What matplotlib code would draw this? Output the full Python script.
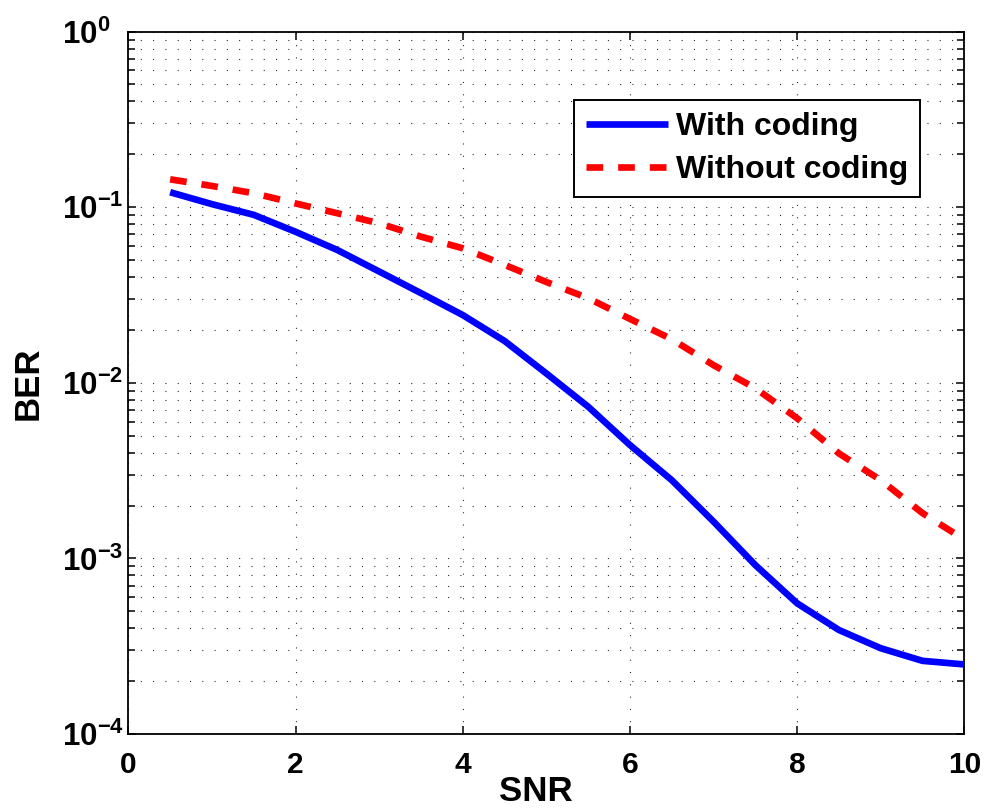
import matplotlib
matplotlib.use("Agg")
import matplotlib.pyplot as plt
from matplotlib.ticker import FixedLocator, FixedFormatter, LogLocator, NullFormatter

snr = [0.5, 1.0, 1.5, 2.0, 2.5, 3.0, 3.5, 4.0, 4.5, 5.0,
       5.5, 6.0, 6.5, 7.0, 7.5, 8.0, 8.5, 9.0, 9.5, 10.0]
ber_coded = [0.1216, 0.104, 0.0904, 0.0724, 0.0570, 0.0430, 0.0324, 0.0243, 0.0173, 0.0113,
             0.00731, 0.00442, 0.00279, 0.00162, 0.000916, 0.000555, 0.000391, 0.000308, 0.000261, 0.000249]
ber_uncoded = [0.144, 0.132, 0.120, 0.105, 0.0923, 0.0809, 0.0679, 0.0583, 0.0469, 0.0375,
               0.0303, 0.0231, 0.0177, 0.0126, 0.00931, 0.00628, 0.00396, 0.00279, 0.00181, 0.00128]
series_labels = ["With coding", "Without coding"]
x_ticks = [0, 2, 4, 6, 8, 10]
y_ticks = [1e-4, 1e-3, 1e-2, 1e-1, 1e0]
y_tick_labels = [r"$\mathbf{10^{-4}}$", r"$\mathbf{10^{-3}}$", r"$\mathbf{10^{-2}}$",
                 r"$\mathbf{10^{-1}}$", r"$\mathbf{10^{0}}$"]

plt.rcParams['font.family'] = ['Liberation Sans', 'DejaVu Sans']
plt.rcParams['font.weight'] = 'bold'
plt.rcParams['mathtext.fontset'] = 'custom'
plt.rcParams['mathtext.bf'] = 'Liberation Sans:bold'
plt.rcParams['mathtext.rm'] = 'Liberation Sans:bold'
plt.rcParams['lines.scale_dashes'] = False

fig = plt.figure(figsize=(9.85, 8.1), dpi=100)
ax = fig.add_axes([0.1303, 0.0938, 0.8487, 0.8673])

ax.plot(snr, ber_coded, color='#0000ff', lw=4.8, solid_capstyle='butt',
        solid_joinstyle='round', label=series_labels[0], zorder=3)
ax.plot(snr, ber_uncoded, color='#ff0000', lw=4.8, dashes=(12, 10.8),
        dash_capstyle='butt', label=series_labels[1], zorder=3)

ax.set_yscale('log')
ax.set_xlim(0, 10)
ax.set_ylim(1e-4, 1e0)

ax.xaxis.set_major_locator(FixedLocator(x_ticks))
ax.set_xticklabels([str(t) for t in x_ticks])
ax.yaxis.set_major_locator(FixedLocator(y_ticks))
ax.yaxis.set_major_formatter(FixedFormatter(y_tick_labels))
ax.yaxis.set_minor_locator(LogLocator(base=10, subs=range(2, 10), numticks=20))
ax.yaxis.set_minor_formatter(NullFormatter())

grid_style = dict(color='#222222', linewidth=0.8)
ax.grid(True, which='major', axis='both', **grid_style)
ax.grid(True, which='minor', axis='y', **grid_style)
for gl in ax.get_xgridlines() + ax.get_ygridlines() + \
        [t.gridline for t in ax.yaxis.get_minor_ticks()]:
    gl.set_dashes((0.75, 8.1))
ax.set_axisbelow(True)

ax.tick_params(which='both', direction='in', top=True, right=True, width=1.1)
ax.tick_params(which='major', length=6)
ax.tick_params(which='minor', length=5)
ax.tick_params(axis='x', which='major', pad=12, labelsize=21.5)
ax.tick_params(axis='y', which='major', pad=47.5, labelsize=22.5)
for lbl in ax.get_yticklabels():
    lbl.set_horizontalalignment('left')
for lbl in ax.get_xticklabels():
    lbl.set_fontweight('bold')
for s in ax.spines.values():
    s.set_linewidth(1.3)

ax.set_xlabel("SNR", fontsize=25, fontweight='bold')
ax.set_ylabel("BER", fontsize=25, fontweight='bold')
ax.xaxis.set_label_coords(0.4877, -0.058)
ax.yaxis.set_label_coords(-0.0997, 0.5)

leg = ax.legend(loc='upper right', bbox_to_anchor=(0.947, 0.9025), borderaxespad=0,
                fontsize=23, fancybox=False, framealpha=1, edgecolor='black',
                handlelength=2.55, handletextpad=0.25, borderpad=0.38, labelspacing=0.4)
leg.get_frame().set_linewidth(1.4)
for t in leg.get_texts():
    t.set_fontweight('bold')

fig.savefig("out.png", dpi=100)
